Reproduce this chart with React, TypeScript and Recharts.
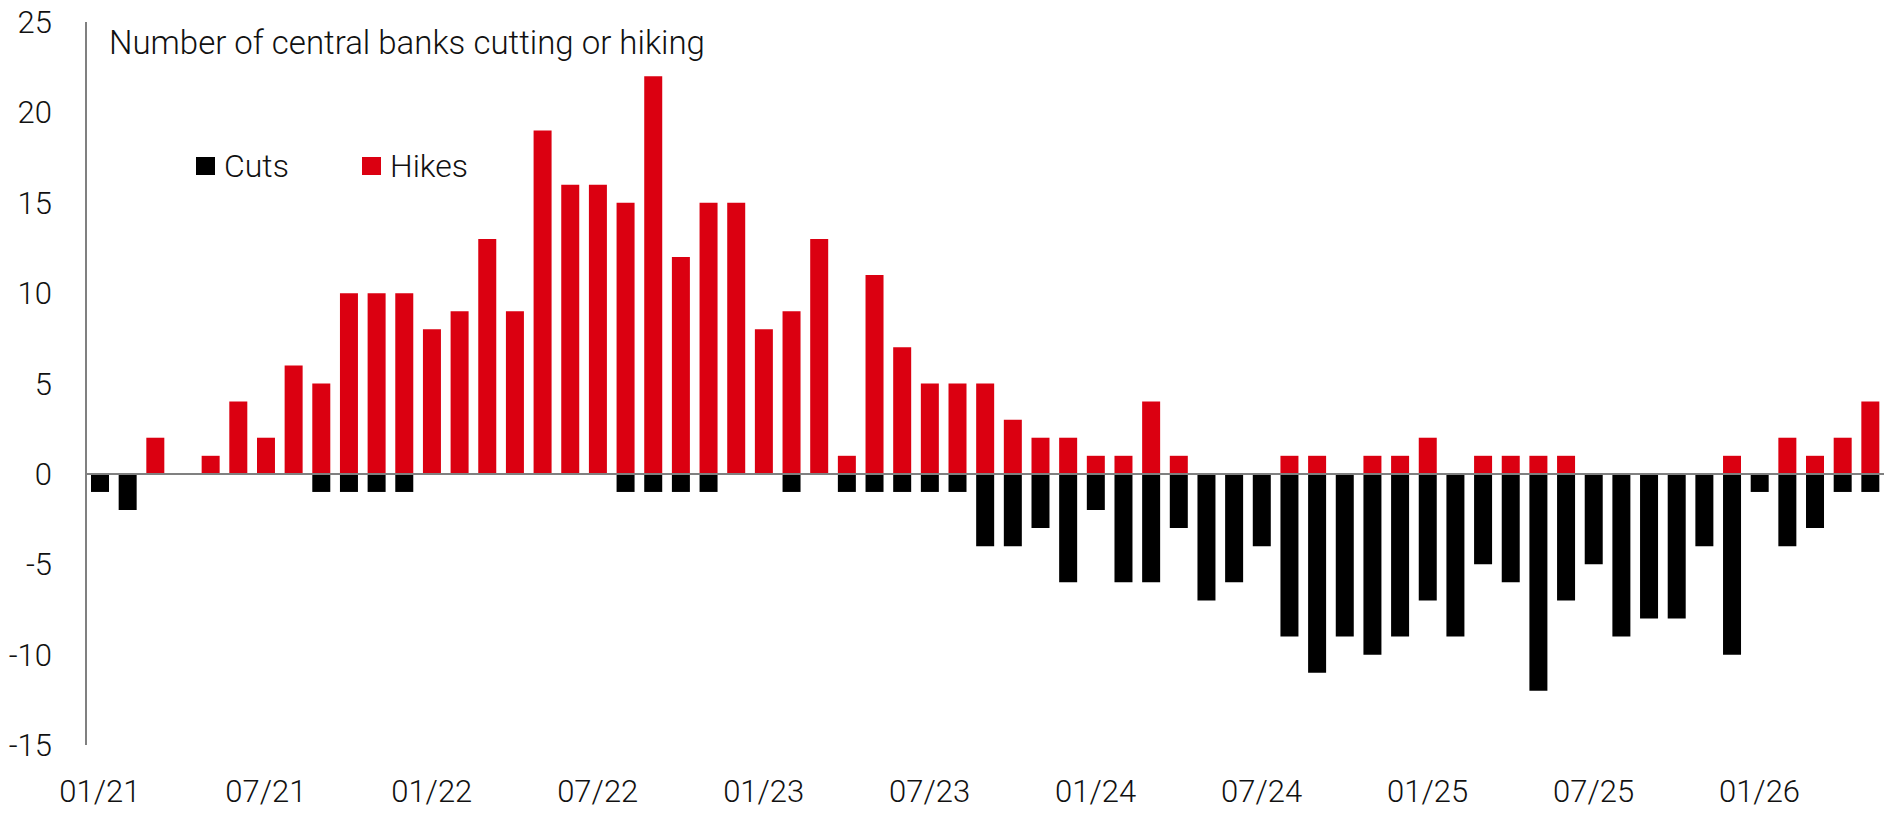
import React from "react";
import { BarChart, Bar, XAxis, YAxis, ReferenceLine, Legend } from "recharts";

const months = [
  "01/21", "02/21", "03/21", "04/21", "05/21", "06/21", "07/21", "08/21", "09/21", "10/21", "11/21", "12/21",
  "01/22", "02/22", "03/22", "04/22", "05/22", "06/22", "07/22", "08/22", "09/22", "10/22", "11/22", "12/22",
  "01/23", "02/23", "03/23", "04/23", "05/23", "06/23", "07/23", "08/23", "09/23", "10/23", "11/23", "12/23",
  "01/24", "02/24", "03/24", "04/24", "05/24", "06/24", "07/24", "08/24", "09/24", "10/24", "11/24", "12/24",
  "01/25", "02/25", "03/25", "04/25", "05/25", "06/25", "07/25", "08/25", "09/25", "10/25", "11/25", "12/25",
  "01/26", "02/26", "03/26", "04/26", "05/26",
];

const cuts = [
  -1, -2, 0, 0, 0, 0, 0, 0, -1, -1, -1, -1,
  0, 0, 0, 0, 0, 0, 0, -1, -1, -1, -1, 0,
  0, -1, 0, -1, -1, -1, -1, -1, -4, -4, -3, -6,
  -2, -6, -6, -3, -7, -6, -4, -9, -11, -9, -10, -9,
  -7, -9, -5, -6, -12, -7, -5, -9, -8, -8, -4, -10,
  -1, -4, -3, -1, -1,
];

const hikes = [
  0, 0, 2, 0, 1, 4, 2, 6, 5, 10, 10, 10,
  8, 9, 13, 9, 19, 16, 16, 15, 22, 12, 15, 15,
  8, 9, 13, 1, 11, 7, 5, 5, 5, 3, 2, 2,
  1, 1, 4, 1, 0, 0, 0, 1, 1, 0, 1, 1,
  2, 0, 1, 1, 1, 1, 0, 0, 0, 0, 0, 1,
  0, 2, 1, 2, 4,
];

const yTicks = [-15, -10, -5, 0, 5, 10, 15, 20, 25];

const data = months.map((month, i) => ({ month, cuts: cuts[i], hikes: hikes[i] }));

const FONT = "Roboto, 'Liberation Sans', sans-serif";
const RED = "#db0011";

function renderLegend(props: any) {
  const items = props.payload || [];
  return (
    <div style={{ display: "flex", alignItems: "center" }}>
      {items.map((entry: any) => (
        <div
          key={entry.value}
          style={{ display: "flex", alignItems: "center", width: 166 }}
        >
          <span
            style={{
              display: "inline-block",
              width: 19,
              height: 18,
              background: entry.color,
              marginRight: 9,
            }}
          />
          <span style={{ fontSize: 32, lineHeight: 1, color: "#111" }}>
            {entry.value}
          </span>
        </div>
      ))}
    </div>
  );
}

export default function App() {
  return (
    <div
      style={{
        position: "absolute",
        left: 0,
        top: 0,
        width: 1886,
        height: 818,
        fontFamily: FONT,
        fontWeight: 300,
        background: "#fff",
      }}
    >
      {/* chart title sits inside the plot, top-left */}
      <div
        style={{
          position: "absolute",
          left: 109,
          top: 26,
          fontSize: 33,
          lineHeight: 1,
          color: "#111",
          zIndex: 2,
          whiteSpace: "nowrap",
        }}
      >
        Number of central banks cutting or hiking
      </div>
      <BarChart
        width={1886}
        height={818}
        data={data}
        stackOffset="sign"
        margin={{ top: 22, right: 2, left: 0, bottom: 13 }}
      >
        <XAxis
          dataKey="month"
          interval={5}
          axisLine={false}
          tickLine={false}
          tickSize={0}
          tickMargin={35}
          height={60}
          tick={{ fontSize: 31, fill: "#111" }}
        />
        <YAxis
          domain={[-15, 25]}
          ticks={yTicks}
          interval={0}
          width={86}
          axisLine={{ stroke: "#808080", strokeWidth: 2 }}
          tickLine={false}
          tickSize={0}
          tickMargin={34}
          tick={{ fontSize: 31, fill: "#111" }}
        />
        <Legend
          verticalAlign="middle"
          align="center"
          layout="horizontal"
          wrapperStyle={{ top: 150, left: 196, width: "auto" }}
          content={renderLegend}
        />
        <Bar
          dataKey="cuts"
          name="Cuts"
          stackId="a"
          fill="#000000"
          barSize={18}
          isAnimationActive={false}
        />
        <Bar
          dataKey="hikes"
          name="Hikes"
          stackId="a"
          fill={RED}
          barSize={18}
          isAnimationActive={false}
        />
        <ReferenceLine y={0} stroke="#808080" strokeWidth={2} />
      </BarChart>
    </div>
  );
}
